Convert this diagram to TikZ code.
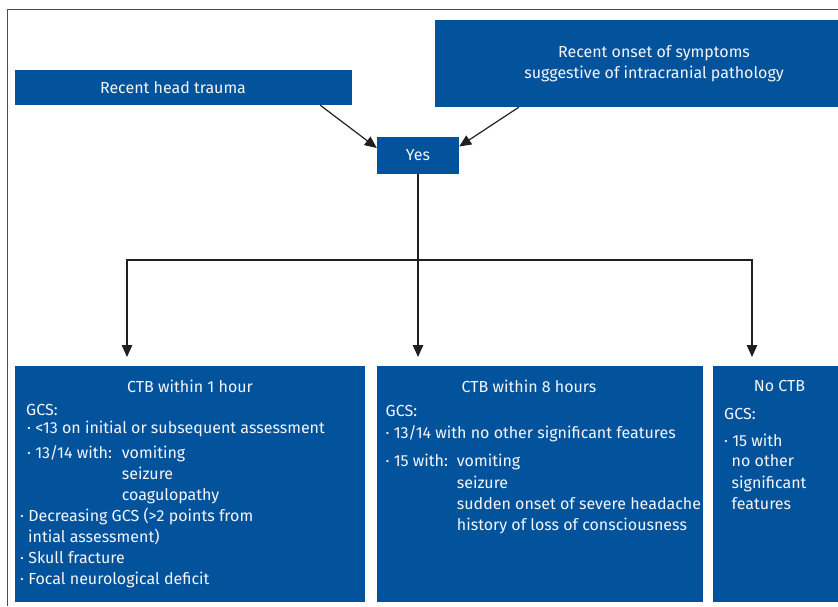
\documentclass[tikz,border=0pt]{standalone}
\usepackage{fontspec}
\setmainfont{Fira Sans}
\usetikzlibrary{arrows.meta,positioning}
\definecolor{flowblue}{HTML}{02529C}
\definecolor{linegrey}{HTML}{231F20}
\definecolor{framegrey}{HTML}{4D4D4D}
\definecolor{boxwhite}{HTML}{F4F6FA}

\begin{document}
\begin{tikzpicture}[x=1pt,y=-1pt,
  box/.style={fill=flowblue, inner sep=0pt, text=boxwhite, font=\fontsize{16}{21}\selectfont},
  label/.style={inner sep=0pt, text=boxwhite, align=center, font=\fontsize{16}{21}\selectfont},
  boxtext/.style={anchor=north west, inner sep=0pt, align=left, text=boxwhite, font=\fontsize{16}{21}\selectfont},
  link/.style={draw=linegrey, line width=1.2pt},
  arr/.style={link, -{Triangle[length=12pt,width=10.5pt]}}]
\clip (0,0) rectangle (838,606);
% frame round the figure
\draw[framegrey, line width=1pt] (7.5,606) |- (838,9.5);

% top row
\node[box, minimum width=337pt, minimum height=35pt] (trauma) at (183.5,87.5) {};
\node[label] (traumatext) at (173,87.5) {Recent head trauma};
\node[box, minimum width=415pt, minimum height=87pt] (onset) at (642.5,63.5) {};
\node[label] (onsettext) at (654,64) {Recent onset of symptoms\\suggestive of intracranial pathology};
\node[box, minimum width=82pt, minimum height=37pt] (yes) at (418,155.5) {Yes};

\draw[arr] ([xshift=-32pt]trauma.south east) -- ([yshift=7.5pt]yes.west);
\draw[arr] ([xshift=84pt]onset.south west) -- ([yshift=9pt]yes.east);

% split into the three outcomes
\coordinate (split) at (418,260);
\coordinate (drop1) at (127,357);
\coordinate (drop2) at (418,357);
\coordinate (drop3) at (752,357);
\draw[link] (yes.south) -- (split);
\draw[arr] (split) -| (drop1);
\draw[arr] (split) -- (drop2);
\draw[arr] (split) -| (drop3);

% outcome boxes
\node[box, minimum width=350pt, minimum height=236pt] (ctb1) at (190,484) {};
\node[box, minimum width=326pt, minimum height=236pt] (ctb8) at (540,484) {};
\node[box, minimum width=137pt, minimum height=236pt] (noctb) at (781.5,484) {};

\node[label] (ctb1title) at (190,386) {CTB within 1 hour};
\node[label] (ctb8title) at (529,386.5) {CTB within 8 hours};
\node[label] (noctbtitle) at (779.5,386) {No CTB};

\node[boxtext] (ctb1text) at (20,404.5) {\hspace*{6pt}GCS:\\[-3pt]
\hspace*{7pt}· <13 on initial or subsequent assessment\\[4pt]
\makebox[101.7pt][l]{\hspace*{7pt}· 13/14 with:}vomiting\\
\hspace*{101.7pt}seizure\\
\hspace*{101.7pt}coagulopathy\\
· Decreasing GCS (>2 points from\\
\hspace*{8pt}intial assessment)\\
· Skull fracture\\
· Focal neurological deficit};

\node[boxtext] (ctb8text) at (385.5,405) {GCS:\\[0.7pt]
· 13/14 with no other significant features\\[7pt]
\makebox[71.2pt][l]{· 15 with:}vomiting\\[1.5pt]
\hspace*{71.2pt}seizure\\
\hspace*{71.2pt}sudden onset of severe headache\\
\hspace*{71.2pt}history of loss of consciousness};

\node[boxtext] (noctbtext) at (724,408.3) {GCS:\\[5.7pt]
· 15 with\\[-1pt]
\hspace*{7.5pt}no other\\[0.7pt]
\hspace*{7.5pt}significant\\
\hspace*{7.5pt}features};
\end{tikzpicture}
\end{document}
